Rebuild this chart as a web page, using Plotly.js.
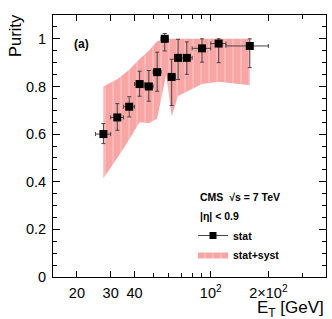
<!DOCTYPE html>
<html>
<head>
<meta charset="utf-8">
<script src="https://cdn.plot.ly/plotly-3.0.1.min.js"></script>
<style>
html,body{margin:0;padding:0;background:#fff;}
#chart{width:332px;height:319px;}
</style>
</head>
<body>
<div id="chart"></div>
<script>
// E_T bin centres [GeV] and half-widths
const et = [27.5, 32.5, 37.5, 42.5, 47.5, 52.5, 57.5, 62.5, 67.5, 75, 90, 110, 160];
const etErr = [2.5, 2.5, 2.5, 2.5, 2.5, 2.5, 2.5, 2.5, 2.5, 5, 10, 10, 40];
// purity and statistical errors
const purity = [0.60, 0.67, 0.715, 0.81, 0.80, 0.86, 1.00, 0.84, 0.92, 0.92, 0.96, 0.98, 0.97];
const statUp = [0.044, 0.058, 0.042, 0.054, 0.067, 0.084, 0.022, 0.074, 0.078, 0.067, 0.04, 0.02, 0.03];
const statDown = [0.04, 0.054, 0.043, 0.051, 0.062, 0.08, 0.051, 0.12, 0.091, 0.069, 0.058, 0.08, 0.091];
// stat+syst band edges
const bandEt = [27.5, 32.5, 37.5, 42.5, 47.5, 52.5, 58.5, 62.5, 67.5, 75, 90, 110, 160];
const bandUpper = [0.80, 0.83, 0.87, 0.915, 0.95, 0.99, 1.0, 1.0, 1.0, 1.0, 1.0, 1.0, 1.0];
const bandLower = [0.415, 0.50, 0.577, 0.65, 0.645, 0.665, 0.85, 0.675, 0.76, 0.78, 0.81, 0.82, 0.805];

const xTickVals = [20, 30, 40, 100, 200];
const xTickText = ['20', '30', '40', '10<sup>2</sup>', '2\u00d710<sup>2</sup>'];
const xMinorVals = [50, 60, 70, 80, 90, 300];

const FONT = 'Liberation Sans, Arial, Helvetica, sans-serif';

const bandX = bandEt.concat(bandEt.slice().reverse());
const bandY = bandUpper.concat(bandLower.slice().reverse());

const PINK = 'rgb(248,165,165)';

const traces = [
  {
    x: bandX, y: bandY, type: 'scatter', mode: 'lines', fill: 'toself',
    line: {width: 0, color: 'rgba(0,0,0,0)'},
    fillcolor: PINK,
    fillpattern: {shape: '|', bgcolor: PINK, fgcolor: 'white', fgopacity: 1, size: 8, solidity: 0.05},
    name: 'stat+syst', legendrank: 2, hoverinfo: 'skip'
  },
  {
    x: et, y: purity, type: 'scatter', mode: 'markers',
    marker: {symbol: 'square', size: 8, color: 'black'},
    error_x: {type: 'data', array: etErr, color: '#444', thickness: 1, width: 2},
    error_y: {type: 'data', symmetric: false, array: statUp, arrayminus: statDown, color: '#444', thickness: 1, width: 2},
    showlegend: false, name: 'stat'
  },
  {
    x: [null], y: [null], type: 'scatter', mode: 'lines+markers',
    marker: {symbol: 'square', size: 7, color: 'black'},
    line: {color: '#444', width: 1},
    name: 'stat', legendrank: 1
  }
];

const W = 332, H = 319, L = 53, R = 6, T = 15, B = 42;
const pw = W - L - R, ph = H - T - B;
const px = x => (x - L) / pw;
const py = y => (H - B - y) / ph;

const layout = {
  width: W, height: H,
  margin: {l: L, r: R, t: T, b: B, pad: 0},
  paper_bgcolor: 'white', plot_bgcolor: 'white',
  font: {family: FONT, color: 'black'},
  showlegend: true,
  legend: {
    x: px(193), y: py(221), xanchor: 'left', yanchor: 'top',
    bgcolor: 'rgba(0,0,0,0)', borderwidth: 0,
    font: {family: FONT, size: 10.5, weight: 'bold', color: 'black'},
    itemwidth: 30, traceorder: 'normal', tracegroupgap: 0
  },
  xaxis: {
    type: 'log', range: [Math.log10(15), Math.log10(400)],
    showgrid: false, zeroline: false,
    showline: true, linecolor: 'black', linewidth: 1, mirror: 'allticks',
    ticks: 'inside', ticklen: 6, tickcolor: 'black', tickwidth: 1,
    tickmode: 'array', tickvals: xTickVals, ticktext: xTickText,
    minor: {tickmode: 'array', tickvals: xMinorVals, ticks: 'inside', ticklen: 4, tickcolor: 'black', showgrid: false},
    tickfont: {family: FONT, size: 14.5, color: 'black'},
    ticklabelstandoff: 3
  },
  yaxis: {
    range: [0, 1.1], showgrid: false, zeroline: false,
    showline: true, linecolor: 'black', linewidth: 1, mirror: 'allticks',
    ticks: 'inside', ticklen: 7, tickcolor: 'black', tickwidth: 1,
    tick0: 0, dtick: 0.2,
    minor: {dtick: 0.05, ticks: 'inside', ticklen: 4, tickcolor: 'black', showgrid: false},
    tickfont: {family: FONT, size: 14.5, color: 'black'},
    ticklabelstandoff: 3
  },
  annotations: [
    {text: 'Purity', textangle: -90, xref: 'paper', yref: 'paper', x: px(15), y: py(36),
     xanchor: 'center', yanchor: 'middle', showarrow: false, font: {family: FONT, size: 16.5, color: 'black'}},
    {text: 'E<sub>T</sub> [GeV]', xref: 'paper', yref: 'paper', x: px(326), y: py(309),
     xanchor: 'right', yanchor: 'middle', showarrow: false, font: {family: FONT, size: 17, color: 'black'}},
    {text: '<b>(a)</b>', xref: 'paper', yref: 'paper', x: px(72), y: py(44),
     xanchor: 'left', yanchor: 'middle', showarrow: false, font: {family: FONT, size: 12, color: 'black'}},
    {text: '<b>CMS  \u221As = 7 TeV</b>', xref: 'paper', yref: 'paper', x: px(198), y: py(197),
     xanchor: 'left', yanchor: 'middle', showarrow: false, font: {family: FONT, size: 10.5, color: 'black'}},
    {text: '<b>|\u03b7| &lt; 0.9</b>', xref: 'paper', yref: 'paper', x: px(198), y: py(216),
     xanchor: 'left', yanchor: 'middle', showarrow: false, font: {family: FONT, size: 10.5, color: 'black'}}
  ]
};

Plotly.newPlot('chart', traces, layout, {displayModeBar: false, staticPlot: true});
</script>
</body>
</html>
